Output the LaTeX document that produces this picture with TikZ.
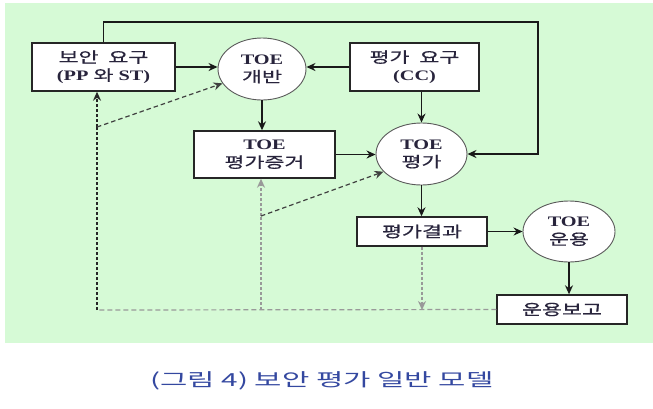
\documentclass[tikz,border=0pt]{standalone}
\usepackage{fontspec}
\usetikzlibrary{arrows.meta,shapes.geometric}
\newfontfamily\krfont[FakeStretch=1.45,FakeBold=0.6]{Noto Sans CJK KR}
\newfontfamily\toefont[FakeStretch=1.4]{Liberation Serif}
\newfontfamily\capfont[FakeStretch=1.65]{Noto Sans CJK KR}
\newcommand{\ko}[1]{{\krfont\mdseries\fontsize{15}{18}\selectfont #1}}
\definecolor{bggreen}{RGB}{214,250,214}
\definecolor{capblue}{RGB}{52,72,160}
\definecolor{inkblk}{RGB}{40,36,60}

\begin{document}
\begin{tikzpicture}[x=1pt,y=-1pt,
		font=\toefont\bfseries\fontsize{14.5}{18}\selectfont,
		box/.style={draw=black!85, line width=1.4pt, fill=white, inner sep=0pt, align=center, text=inkblk},
		proc/.style={ellipse, draw=black!65, line width=0.9pt, fill=white, inner sep=0pt,
			minimum width=88pt, minimum height=62pt, align=center, text=inkblk},
		flow/.style={-{Stealth[length=9pt,width=8pt]}, line width=1.4pt, black!90},
		tip/.style={-{Stealth[length=9pt,width=8pt]}},
		fbdot/.style={line width=1.5pt, black!85, dash pattern=on 3pt off 2pt},
		fbgray/.style={line width=1.5pt, black!40, dash pattern=on 3pt off 2pt},
		fbdash/.style={line width=1.2pt, black!40, dash pattern=on 5pt off 3pt},
		fbslant/.style={line width=1.2pt, black!75, dash pattern=on 4.5pt off 3pt}]
		\useasboundingbox (0,0) rectangle (653,408);
		\fill[bggreen] (5,3) rectangle (653,343);
		% boxes and processes
		\node[box, minimum width=143pt, minimum height=48pt] (req) at (103.5,67) {\ko{보안 \ 요구}\\(PP \ko{와} ST)};
		\node[proc] (dev) at (262,69) {TOE\\\ko{개반}};
		\node[box, minimum width=129pt, minimum height=48pt] (ccreq) at (414.5,67) {\ko{평가 \ 요구}\\(CC)};
		\node[box, minimum width=141pt, minimum height=47pt] (evid) at (264.5,154.5) {TOE\\\ko{평가증거}};
		\node[proc, minimum width=91pt] (eval) at (421.5,154) {TOE\\\ko{평가}};
		\node[box, minimum width=130pt, minimum height=29pt] (res) at (422,231.5) {\ko{평가결과}};
		\node[proc, minimum width=92pt, minimum height=61pt] (ops) at (569,231.5) {TOE\\\ko{운용}};
		\node[box, minimum width=130pt, minimum height=29pt] (rep) at (562,309.5) {\ko{운용보고}};
		% solid flows
		\coordinate (loop) at (538,22);
		\draw[flow] (req.north) |- (loop) |- (eval.east);
		\draw[flow] (req.east) -- (req.east -| dev.west);
		\draw[flow] (ccreq.west) -- (ccreq.west -| dev.east);
		\draw[flow] (dev.south) -- (dev.south |- evid.north);
		\draw[flow] (eval.north |- ccreq.south) -- (eval.north);
		\draw[flow] (evid.east) -- (evid.east -| eval.west);
		\draw[flow] (eval.south) -- (eval.south |- res.north);
		\draw[flow] (res.east) -- (res.east -| ops.west);
		\draw[flow] (ops.south) -- (ops.south |- rep.north);
		% feedback (dashed)
		\coordinate (fb) at (97,310);
		\coordinate (fa) at (97,127);
		\coordinate (fc) at (261,310);
		\coordinate (fd) at (261,216);
		\draw[fbdash] (rep.west) -- (fb);
		\draw[fbdot] (fb) -- (fa);
		\draw[fbdot, tip] (fa) -- (fa |- req.south);
		\draw[fbslant, tip] (fa) -- (dev.200);
		\draw[fbgray] (fc) -- (fd);
		\draw[fbgray, tip] (fd) -- (fd |- evid.south);
		\draw[fbslant, tip] (fd) -- (eval.205);
		\draw[fbgray, tip] (res.south) -- (res.south |- fb);
		\node[text=capblue, font=\capfont\fontsize{18}{20}\selectfont] (cap) at (322,381) {(그림 4) 보안 평가 일반 모델};
\end{tikzpicture}
\end{document}
